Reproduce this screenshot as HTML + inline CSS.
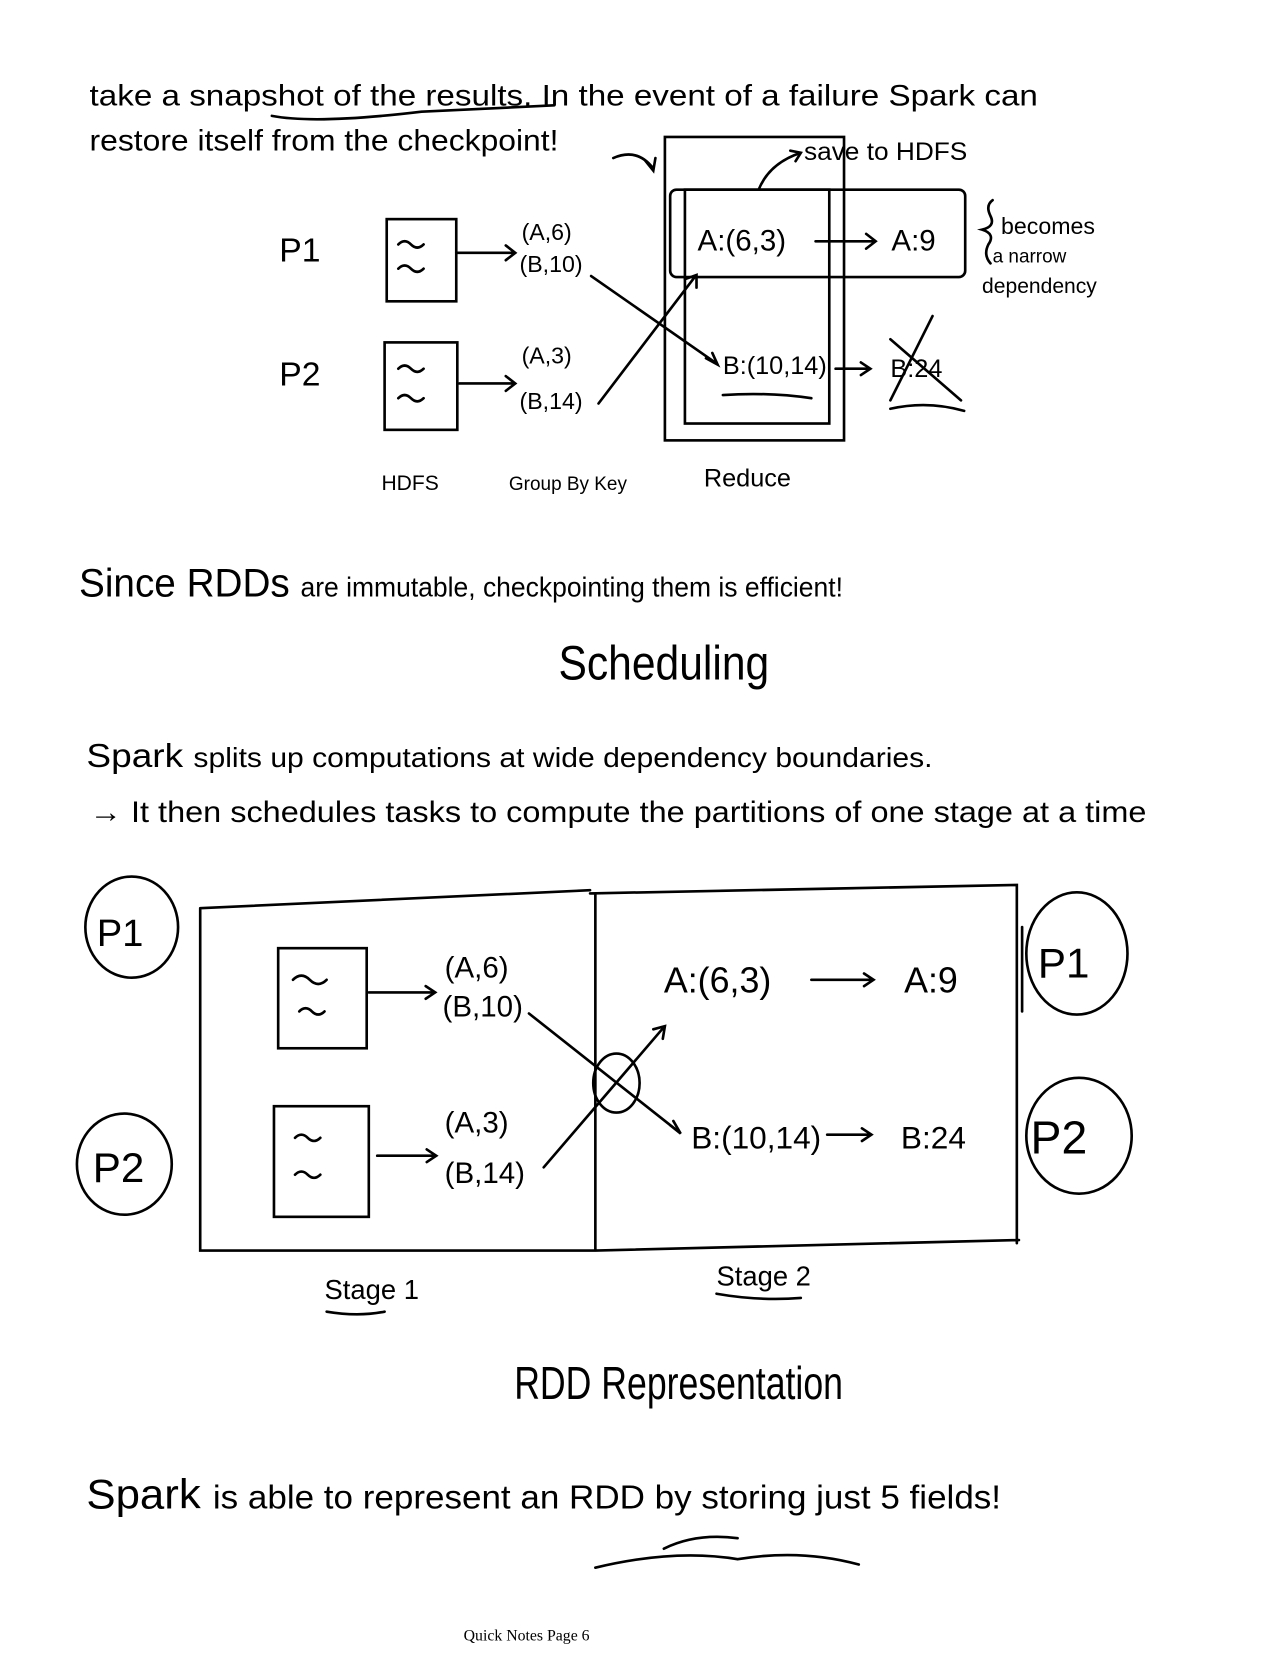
<!DOCTYPE html>
<html><head><meta charset="utf-8"><style>
html,body{margin:0;padding:0;background:#fff;}
svg{display:block}
text{font-family:"Liberation Sans",sans-serif;fill:#000}
.h{font-family:"Liberation Sans Narrow","Liberation Sans",sans-serif}
</style></head><body>
<svg width="1275" height="1653" viewBox="0 0 1210 1569" preserveAspectRatio="none" xmlns="http://www.w3.org/2000/svg">
<g stroke="#000" fill="none" stroke-width="2.5" stroke-linecap="round">
<path d="M258 110 Q300 118 400 106 L526 100"/>
<path d="M582 150 Q605 140 620 160 M612 152 L620 162 L622 150"/>
<rect x="631" y="130" width="170" height="288"/>
<rect x="650" y="180" width="137" height="222"/>
<rect x="636" y="180" width="280" height="83" rx="6"/>
<path d="M720 180 Q730 155 760 145 M750 143 L760 145 L755 153"/>
<path d="M942 190 Q935 195 940 205 Q945 215 932 218 Q945 222 938 232 Q933 242 940 250"/>
<rect x="367" y="208" width="66" height="78"/>
<path d="M378 232 q6 -6 12 0 t12 0 M378 255 q6 -6 12 0 t12 0"/>
<rect x="365" y="325" width="69" height="83"/>
<path d="M378 350 q6 -6 12 0 t12 0 M378 378 q6 -6 12 0 t12 0"/>
<path d="M433 240 L488 240 M480 233 L489 240 L480 247"/>
<path d="M436 364 L488 364 M480 357 L489 364 L480 371"/>
<path d="M561 262 L680 345 M670 340 L681 346 L676 335"/>
<path d="M568 383 L660 262 M650 265 L661 261 L661 273"/>
<path d="M774 229 L830 229 M822 222 L831 229 L822 236"/>
<path d="M793 350 L825 350 M817 344 L826 350 L817 356"/>
<path d="M845 380 L885 300 M845 322 L912 380"/>
<path d="M686 375 Q730 372 770 378"/>
<path d="M845 388 Q880 380 915 390"/>
<path d="M190 862 L560 845 M560 848 L965 840 L965 1180 M190 862 L190 1187 L565 1187 M565 848 L565 1187 M565 1187 L967 1177"/>
<path d="M970 880 L970 960"/>
<ellipse cx="125" cy="880" rx="44" ry="48"/>
<ellipse cx="118" cy="1105" rx="45" ry="48"/>
<ellipse cx="1022" cy="905" rx="48" ry="58"/>
<ellipse cx="1024" cy="1078" rx="50" ry="55"/>
<rect x="264" y="900" width="84" height="95"/>
<path d="M278 930 q8 -8 16 0 t16 0 M284 960 q6 -6 12 0 t12 0"/>
<rect x="260" y="1050" width="90" height="105"/>
<path d="M280 1080 q6 -6 12 0 t12 0 M280 1115 q6 -6 12 0 t12 0"/>
<path d="M350 942 L412 942 M404 936 L413 942 L404 948"/>
<path d="M358 1097 L413 1097 M405 1091 L414 1097 L405 1103"/>
<path d="M502 962 L645 1075 M636 1068 L646 1076 L639 1064"/>
<path d="M516 1108 L630 975 M620 977 L631 974 L629 986"/>
<ellipse cx="585" cy="1028" rx="22" ry="28"/>
<path d="M770 930 L828 930 M820 924 L829 930 L820 936"/>
<path d="M785 1077 L826 1077 M818 1071 L827 1077 L818 1083"/>
<path d="M310 1245 Q340 1250 365 1245 M680 1228 Q720 1235 760 1232"/>
<path d="M565 1488 Q640 1470 700 1480 Q760 1470 815 1485 M630 1470 Q660 1455 700 1460"/>
</g>
<g class="h">
<text x="85" y="100" font-size="28" textLength="900" lengthAdjust="spacingAndGlyphs">take  a  snapshot  of  the  results.  In  the  event  of  a  failure  Spark  can</text>
<text x="85" y="143" font-size="28" textLength="445" lengthAdjust="spacingAndGlyphs">restore itself from the checkpoint!</text>
<text x="763" y="152" font-size="24" textLength="155" lengthAdjust="spacingAndGlyphs">save to HDFS</text>
<text x="265" y="248" font-size="32">P1</text>
<text x="265" y="366" font-size="32">P2</text>
<text x="495" y="228" font-size="22">(A,6)</text>
<text x="493" y="258" font-size="22">(B,10)</text>
<text x="495" y="345" font-size="22">(A,3)</text>
<text x="493" y="388" font-size="22">(B,14)</text>
<text x="662" y="238" font-size="28">A:(6,3)</text>
<text x="846" y="238" font-size="28">A:9</text>
<text x="686" y="355" font-size="24">B:(10,14)</text>
<text x="845" y="358" font-size="24">B:24</text>
<text x="950" y="222" font-size="22">becomes</text>
<text x="942" y="249" font-size="18">a narrow</text>
<text x="932" y="278" font-size="20">dependency</text>
<text x="362" y="465" font-size="20">HDFS</text>
<text x="483" y="465" font-size="18">Group By Key</text>
<text x="668" y="462" font-size="24">Reduce</text>
<text x="75" y="566" font-size="38" textLength="725" lengthAdjust="spacingAndGlyphs">Since RDDs <tspan font-size="26">are immutable, checkpointing them is efficient!</tspan></text>
<text x="530" y="645" font-size="46" textLength="200" lengthAdjust="spacingAndGlyphs">Scheduling</text>
<text x="82" y="728" font-size="32" textLength="803" lengthAdjust="spacingAndGlyphs">Spark <tspan font-size="26">splits up computations at wide dependency boundaries.</tspan></text>
<text x="85" y="780" font-size="28" textLength="1003" lengthAdjust="spacingAndGlyphs">→ It then schedules tasks to compute the partitions of one stage at a time</text>
<text x="92" y="898" font-size="36">P1</text>
<text x="88" y="1122" font-size="40">P2</text>
<text x="985" y="928" font-size="40">P1</text>
<text x="978" y="1095" font-size="44">P2</text>
<text x="422" y="928" font-size="28">(A,6)</text>
<text x="420" y="965" font-size="28">(B,10)</text>
<text x="422" y="1075" font-size="28">(A,3)</text>
<text x="422" y="1123" font-size="28">(B,14)</text>
<text x="630" y="942" font-size="34">A:(6,3)</text>
<text x="858" y="942" font-size="34">A:9</text>
<text x="656" y="1090" font-size="30">B:(10,14)</text>
<text x="855" y="1090" font-size="30">B:24</text>
<text x="308" y="1233" font-size="26">Stage 1</text>
<text x="680" y="1220" font-size="26">Stage 2</text>
<text x="488" y="1328" font-size="44" textLength="312" lengthAdjust="spacingAndGlyphs">RDD Representation</text>
<text x="82" y="1432" font-size="40" textLength="868" lengthAdjust="spacingAndGlyphs">Spark <tspan font-size="32">is able to represent an RDD by storing just 5 fields!</tspan></text>
</g>
<rect x="0" y="1492" width="1210" height="40" fill="#fff"/>
<text x="440" y="1557" font-size="15" style="font-family:'Liberation Serif',serif">Quick Notes Page 6</text>
</svg>
</body></html>
